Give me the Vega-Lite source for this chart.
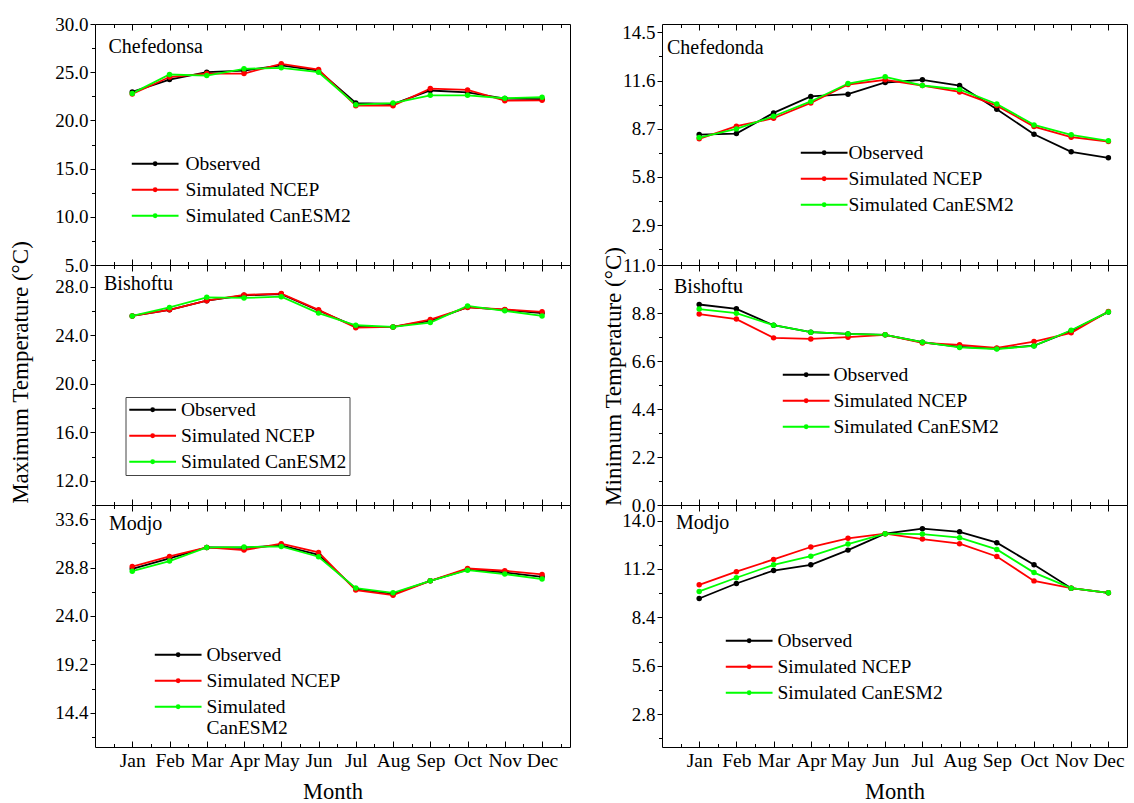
{
"$schema": "https://vega.github.io/schema/vega-lite/v6.json",
"padding": {"left": 8, "top": 14, "right": 5, "bottom": 0},
"config": {
  "font": "Liberation Serif",
  "view": {"stroke": "#000000", "strokeWidth": 1},
  "axis": {"labelFont": "Liberation Serif", "labelFontSize": 19, "labelColor": "#000000", "titleFont": "Liberation Serif", "titleFontSize": 23, "titleFontWeight": "normal", "titleColor": "#000000", "domainColor": "#000000", "tickColor": "#000000", "grid": false},
  "legend": {"labelFont": "Liberation Serif", "labelFontSize": 19.5, "labelColor": "#000000", "labelLimit": 400},
  "title": {"font": "Liberation Serif", "fontSize": 20, "fontWeight": "normal", "color": "#000000"}
},
"data": {"values": [
{"panel":"L1","series":"Observed","month":1,"temp":22.95},{"panel":"L1","series":"Observed","month":2,"temp":24.24},{"panel":"L1","series":"Observed","month":3,"temp":25.0},{"panel":"L1","series":"Observed","month":4,"temp":25.17},{"panel":"L1","series":"Observed","month":5,"temp":25.7},{"panel":"L1","series":"Observed","month":6,"temp":25.17},{"panel":"L1","series":"Observed","month":7,"temp":21.8},{"panel":"L1","series":"Observed","month":8,"temp":21.7},{"panel":"L1","series":"Observed","month":9,"temp":23.1},{"panel":"L1","series":"Observed","month":10,"temp":22.9},{"panel":"L1","series":"Observed","month":11,"temp":22.26},{"panel":"L1","series":"Observed","month":12,"temp":22.2},
{"panel":"L1","series":"Simulated NCEP","month":1,"temp":22.74},{"panel":"L1","series":"Simulated NCEP","month":2,"temp":24.5},{"panel":"L1","series":"Simulated NCEP","month":3,"temp":24.86},{"panel":"L1","series":"Simulated NCEP","month":4,"temp":24.86},{"panel":"L1","series":"Simulated NCEP","month":5,"temp":25.87},{"panel":"L1","series":"Simulated NCEP","month":6,"temp":25.28},{"panel":"L1","series":"Simulated NCEP","month":7,"temp":21.53},{"panel":"L1","series":"Simulated NCEP","month":8,"temp":21.53},{"panel":"L1","series":"Simulated NCEP","month":9,"temp":23.3},{"panel":"L1","series":"Simulated NCEP","month":10,"temp":23.16},{"panel":"L1","series":"Simulated NCEP","month":11,"temp":22.05},{"panel":"L1","series":"Simulated NCEP","month":12,"temp":22.08},
{"panel":"L1","series":"Simulated CanESM2","month":1,"temp":22.8},{"panel":"L1","series":"Simulated CanESM2","month":2,"temp":24.76},{"panel":"L1","series":"Simulated CanESM2","month":3,"temp":24.65},{"panel":"L1","series":"Simulated CanESM2","month":4,"temp":25.35},{"panel":"L1","series":"Simulated CanESM2","month":5,"temp":25.45},{"panel":"L1","series":"Simulated CanESM2","month":6,"temp":25.0},{"panel":"L1","series":"Simulated CanESM2","month":7,"temp":21.63},{"panel":"L1","series":"Simulated CanESM2","month":8,"temp":21.8},{"panel":"L1","series":"Simulated CanESM2","month":9,"temp":22.6},{"panel":"L1","series":"Simulated CanESM2","month":10,"temp":22.6},{"panel":"L1","series":"Simulated CanESM2","month":11,"temp":22.3},{"panel":"L1","series":"Simulated CanESM2","month":12,"temp":22.4},
{"panel":"L2","series":"Observed","month":1,"temp":25.6},{"panel":"L2","series":"Observed","month":2,"temp":26.1},{"panel":"L2","series":"Observed","month":3,"temp":26.86},{"panel":"L2","series":"Observed","month":4,"temp":27.3},{"panel":"L2","series":"Observed","month":5,"temp":27.4},{"panel":"L2","series":"Observed","month":6,"temp":26.05},{"panel":"L2","series":"Observed","month":7,"temp":24.72},{"panel":"L2","series":"Observed","month":8,"temp":24.69},{"panel":"L2","series":"Observed","month":9,"temp":25.2},{"panel":"L2","series":"Observed","month":10,"temp":26.33},{"panel":"L2","series":"Observed","month":11,"temp":26.1},{"panel":"L2","series":"Observed","month":12,"temp":25.83},
{"panel":"L2","series":"Simulated NCEP","month":1,"temp":25.6},{"panel":"L2","series":"Simulated NCEP","month":2,"temp":26.1},{"panel":"L2","series":"Simulated NCEP","month":3,"temp":26.86},{"panel":"L2","series":"Simulated NCEP","month":4,"temp":27.33},{"panel":"L2","series":"Simulated NCEP","month":5,"temp":27.44},{"panel":"L2","series":"Simulated NCEP","month":6,"temp":26.1},{"panel":"L2","series":"Simulated NCEP","month":7,"temp":24.63},{"panel":"L2","series":"Simulated NCEP","month":8,"temp":24.69},{"panel":"L2","series":"Simulated NCEP","month":9,"temp":25.3},{"panel":"L2","series":"Simulated NCEP","month":10,"temp":26.3},{"panel":"L2","series":"Simulated NCEP","month":11,"temp":26.13},{"panel":"L2","series":"Simulated NCEP","month":12,"temp":25.94},
{"panel":"L2","series":"Simulated CanESM2","month":1,"temp":25.6},{"panel":"L2","series":"Simulated CanESM2","month":2,"temp":26.3},{"panel":"L2","series":"Simulated CanESM2","month":3,"temp":27.13},{"panel":"L2","series":"Simulated CanESM2","month":4,"temp":27.08},{"panel":"L2","series":"Simulated CanESM2","month":5,"temp":27.19},{"panel":"L2","series":"Simulated CanESM2","month":6,"temp":25.83},{"panel":"L2","series":"Simulated CanESM2","month":7,"temp":24.83},{"panel":"L2","series":"Simulated CanESM2","month":8,"temp":24.69},{"panel":"L2","series":"Simulated CanESM2","month":9,"temp":25.05},{"panel":"L2","series":"Simulated CanESM2","month":10,"temp":26.42},{"panel":"L2","series":"Simulated CanESM2","month":11,"temp":26.02},{"panel":"L2","series":"Simulated CanESM2","month":12,"temp":25.6},
{"panel":"L3","series":"Observed","month":1,"temp":28.67},{"panel":"L3","series":"Observed","month":2,"temp":29.7},{"panel":"L3","series":"Observed","month":3,"temp":30.79},{"panel":"L3","series":"Observed","month":4,"temp":30.76},{"panel":"L3","series":"Observed","month":5,"temp":31.0},{"panel":"L3","series":"Observed","month":6,"temp":30.06},{"panel":"L3","series":"Observed","month":7,"temp":26.69},{"panel":"L3","series":"Observed","month":8,"temp":26.19},{"panel":"L3","series":"Observed","month":9,"temp":27.48},{"panel":"L3","series":"Observed","month":10,"temp":28.6},{"panel":"L3","series":"Observed","month":11,"temp":28.31},{"panel":"L3","series":"Observed","month":12,"temp":27.88},
{"panel":"L3","series":"Simulated NCEP","month":1,"temp":28.9},{"panel":"L3","series":"Simulated NCEP","month":2,"temp":29.9},{"panel":"L3","series":"Simulated NCEP","month":3,"temp":30.79},{"panel":"L3","series":"Simulated NCEP","month":4,"temp":30.53},{"panel":"L3","series":"Simulated NCEP","month":5,"temp":31.16},{"panel":"L3","series":"Simulated NCEP","month":6,"temp":30.3},{"panel":"L3","series":"Simulated NCEP","month":7,"temp":26.56},{"panel":"L3","series":"Simulated NCEP","month":8,"temp":26.06},{"panel":"L3","series":"Simulated NCEP","month":9,"temp":27.48},{"panel":"L3","series":"Simulated NCEP","month":10,"temp":28.7},{"panel":"L3","series":"Simulated NCEP","month":11,"temp":28.48},{"panel":"L3","series":"Simulated NCEP","month":12,"temp":28.11},
{"panel":"L3","series":"Simulated CanESM2","month":1,"temp":28.44},{"panel":"L3","series":"Simulated CanESM2","month":2,"temp":29.44},{"panel":"L3","series":"Simulated CanESM2","month":3,"temp":30.79},{"panel":"L3","series":"Simulated CanESM2","month":4,"temp":30.83},{"panel":"L3","series":"Simulated CanESM2","month":5,"temp":30.89},{"panel":"L3","series":"Simulated CanESM2","month":6,"temp":29.87},{"panel":"L3","series":"Simulated CanESM2","month":7,"temp":26.76},{"panel":"L3","series":"Simulated CanESM2","month":8,"temp":26.29},{"panel":"L3","series":"Simulated CanESM2","month":9,"temp":27.48},{"panel":"L3","series":"Simulated CanESM2","month":10,"temp":28.54},{"panel":"L3","series":"Simulated CanESM2","month":11,"temp":28.15},{"panel":"L3","series":"Simulated CanESM2","month":12,"temp":27.65},
{"panel":"R1","series":"Observed","month":1,"temp":8.35},{"panel":"R1","series":"Observed","month":2,"temp":8.41},{"panel":"R1","series":"Observed","month":3,"temp":9.65},{"panel":"R1","series":"Observed","month":4,"temp":10.64},{"panel":"R1","series":"Observed","month":5,"temp":10.78},{"panel":"R1","series":"Observed","month":6,"temp":11.48},{"panel":"R1","series":"Observed","month":7,"temp":11.64},{"panel":"R1","series":"Observed","month":8,"temp":11.3},{"panel":"R1","series":"Observed","month":9,"temp":9.87},{"panel":"R1","series":"Observed","month":10,"temp":8.37},{"panel":"R1","series":"Observed","month":11,"temp":7.31},{"panel":"R1","series":"Observed","month":12,"temp":6.95},
{"panel":"R1","series":"Simulated NCEP","month":1,"temp":8.09},{"panel":"R1","series":"Simulated NCEP","month":2,"temp":8.85},{"panel":"R1","series":"Simulated NCEP","month":3,"temp":9.33},{"panel":"R1","series":"Simulated NCEP","month":4,"temp":10.25},{"panel":"R1","series":"Simulated NCEP","month":5,"temp":11.36},{"panel":"R1","series":"Simulated NCEP","month":6,"temp":11.64},{"panel":"R1","series":"Simulated NCEP","month":7,"temp":11.3},{"panel":"R1","series":"Simulated NCEP","month":8,"temp":10.91},{"panel":"R1","series":"Simulated NCEP","month":9,"temp":10.09},{"panel":"R1","series":"Simulated NCEP","month":10,"temp":8.83},{"panel":"R1","series":"Simulated NCEP","month":11,"temp":8.19},{"panel":"R1","series":"Simulated NCEP","month":12,"temp":7.93},
{"panel":"R1","series":"Simulated CanESM2","month":1,"temp":8.17},{"panel":"R1","series":"Simulated CanESM2","month":2,"temp":8.69},{"panel":"R1","series":"Simulated CanESM2","month":3,"temp":9.45},{"panel":"R1","series":"Simulated CanESM2","month":4,"temp":10.34},{"panel":"R1","series":"Simulated CanESM2","month":5,"temp":11.42},{"panel":"R1","series":"Simulated CanESM2","month":6,"temp":11.82},{"panel":"R1","series":"Simulated CanESM2","month":7,"temp":11.3},{"panel":"R1","series":"Simulated CanESM2","month":8,"temp":11.06},{"panel":"R1","series":"Simulated CanESM2","month":9,"temp":10.19},{"panel":"R1","series":"Simulated CanESM2","month":10,"temp":8.93},{"panel":"R1","series":"Simulated CanESM2","month":11,"temp":8.33},{"panel":"R1","series":"Simulated CanESM2","month":12,"temp":7.97},
{"panel":"R2","series":"Observed","month":1,"temp":9.19},{"panel":"R2","series":"Observed","month":2,"temp":8.99},{"panel":"R2","series":"Observed","month":3,"temp":8.24},{"panel":"R2","series":"Observed","month":4,"temp":7.92},{"panel":"R2","series":"Observed","month":5,"temp":7.84},{"panel":"R2","series":"Observed","month":6,"temp":7.8},{"panel":"R2","series":"Observed","month":7,"temp":7.46},{"panel":"R2","series":"Observed","month":8,"temp":7.25},{"panel":"R2","series":"Observed","month":9,"temp":7.17},{"panel":"R2","series":"Observed","month":10,"temp":7.3},{"panel":"R2","series":"Observed","month":11,"temp":7.98},{"panel":"R2","series":"Observed","month":12,"temp":8.85},
{"panel":"R2","series":"Simulated NCEP","month":1,"temp":8.75},{"panel":"R2","series":"Simulated NCEP","month":2,"temp":8.52},{"panel":"R2","series":"Simulated NCEP","month":3,"temp":7.66},{"panel":"R2","series":"Simulated NCEP","month":4,"temp":7.61},{"panel":"R2","series":"Simulated NCEP","month":5,"temp":7.69},{"panel":"R2","series":"Simulated NCEP","month":6,"temp":7.8},{"panel":"R2","series":"Simulated NCEP","month":7,"temp":7.43},{"panel":"R2","series":"Simulated NCEP","month":8,"temp":7.34},{"panel":"R2","series":"Simulated NCEP","month":9,"temp":7.2},{"panel":"R2","series":"Simulated NCEP","month":10,"temp":7.49},{"panel":"R2","series":"Simulated NCEP","month":11,"temp":7.89},{"panel":"R2","series":"Simulated NCEP","month":12,"temp":8.87},
{"panel":"R2","series":"Simulated CanESM2","month":1,"temp":8.98},{"panel":"R2","series":"Simulated CanESM2","month":2,"temp":8.79},{"panel":"R2","series":"Simulated CanESM2","month":3,"temp":8.24},{"panel":"R2","series":"Simulated CanESM2","month":4,"temp":7.92},{"panel":"R2","series":"Simulated CanESM2","month":5,"temp":7.84},{"panel":"R2","series":"Simulated CanESM2","month":6,"temp":7.8},{"panel":"R2","series":"Simulated CanESM2","month":7,"temp":7.46},{"panel":"R2","series":"Simulated CanESM2","month":8,"temp":7.22},{"panel":"R2","series":"Simulated CanESM2","month":9,"temp":7.15},{"panel":"R2","series":"Simulated CanESM2","month":10,"temp":7.29},{"panel":"R2","series":"Simulated CanESM2","month":11,"temp":8.01},{"panel":"R2","series":"Simulated CanESM2","month":12,"temp":8.85},
{"panel":"R3","series":"Observed","month":1,"temp":9.49},{"panel":"R3","series":"Observed","month":2,"temp":10.36},{"panel":"R3","series":"Observed","month":3,"temp":11.11},{"panel":"R3","series":"Observed","month":4,"temp":11.44},{"panel":"R3","series":"Observed","month":5,"temp":12.29},{"panel":"R3","series":"Observed","month":6,"temp":13.24},{"panel":"R3","series":"Observed","month":7,"temp":13.53},{"panel":"R3","series":"Observed","month":8,"temp":13.35},{"panel":"R3","series":"Observed","month":9,"temp":12.72},{"panel":"R3","series":"Observed","month":10,"temp":11.44},{"panel":"R3","series":"Observed","month":11,"temp":10.09},{"panel":"R3","series":"Observed","month":12,"temp":9.82},
{"panel":"R3","series":"Simulated NCEP","month":1,"temp":10.28},{"panel":"R3","series":"Simulated NCEP","month":2,"temp":11.04},{"panel":"R3","series":"Simulated NCEP","month":3,"temp":11.75},{"panel":"R3","series":"Simulated NCEP","month":4,"temp":12.47},{"panel":"R3","series":"Simulated NCEP","month":5,"temp":12.97},{"panel":"R3","series":"Simulated NCEP","month":6,"temp":13.24},{"panel":"R3","series":"Simulated NCEP","month":7,"temp":12.93},{"panel":"R3","series":"Simulated NCEP","month":8,"temp":12.66},{"panel":"R3","series":"Simulated NCEP","month":9,"temp":11.92},{"panel":"R3","series":"Simulated NCEP","month":10,"temp":10.51},{"panel":"R3","series":"Simulated NCEP","month":11,"temp":10.09},{"panel":"R3","series":"Simulated NCEP","month":12,"temp":9.82},
{"panel":"R3","series":"Simulated CanESM2","month":1,"temp":9.9},{"panel":"R3","series":"Simulated CanESM2","month":2,"temp":10.69},{"panel":"R3","series":"Simulated CanESM2","month":3,"temp":11.44},{"panel":"R3","series":"Simulated CanESM2","month":4,"temp":11.94},{"panel":"R3","series":"Simulated CanESM2","month":5,"temp":12.64},{"panel":"R3","series":"Simulated CanESM2","month":6,"temp":13.24},{"panel":"R3","series":"Simulated CanESM2","month":7,"temp":13.22},{"panel":"R3","series":"Simulated CanESM2","month":8,"temp":13.01},{"panel":"R3","series":"Simulated CanESM2","month":9,"temp":12.33},{"panel":"R3","series":"Simulated CanESM2","month":10,"temp":10.99},{"panel":"R3","series":"Simulated CanESM2","month":11,"temp":10.09},{"panel":"R3","series":"Simulated CanESM2","month":12,"temp":9.82}
]},
"hconcat": [
{
"vconcat": [
{
 "width": 475, "height": 241,
 "title": {"text": "Chefedonsa", "anchor": "start", "frame": "group", "offset": -41.7, "dx": 13.5},
 "transform": [{"filter": "datum.panel == 'L1'"}],
 "layer": [
  {"mark": {"type": "line", "strokeWidth": 1.8, "point": {"filled": true, "size": 30}},
   "encoding": {
    "x": {"field": "month", "type": "quantitative", "scale": {"domain": [0, 12.75], "nice": false, "zero": false}, "axis": {"values": [0.5,1,1.5,2,2.5,3,3.5,4,4.5,5,5.5,6,6.5,7,7.5,8,8.5,9,9.5,10,10.5,11,11.5,12,12.5], "labels": false, "title": null, "domain": false, "tickSize": {"condition": {"test": "datum.value % 1 == 0", "value": -6}, "value": -3.5}}},
    "y": {"field": "temp", "type": "quantitative", "scale": {"domain": [5, 30], "nice": false, "zero": false}, "axis": {"values": [5,7.5,10,12.5,15,17.5,20,22.5,25,27.5,30], "labelExpr": "round(datum.value*10) % 50 == 0 ? format(datum.value, '.1f') : ''", "title": null, "domain": false, "labelPadding": 2, "tickSize": {"condition": {"test": "round(datum.value*10) % 50 == 0", "value": 5}, "value": 3.5}}},
    "color": {"field": "series", "type": "nominal", "scale": {"domain": ["Observed","Simulated NCEP","Simulated CanESM2"], "range": ["#000000","#ff0000","#00ff00"]}, "legend": {"orient": "none", "legendX": 66, "legendY": 130, "title": null, "symbolType": "M-5,0H1M-1.82,0A0.18,0.18,0,1,1,-2.18,0A0.18,0.18,0,1,1,-1.82,0M-1.94,0A0.06,0.06,0,1,1,-2.06,0A0.06,0.06,0,1,1,-1.94,0", "symbolSize": 243, "symbolStrokeWidth": 2, "labelOffset": 5, "rowPadding": 5, "padding": 0}}
   }},
  {"mark": {"type": "point", "opacity": 0},
   "encoding": {
    "x": {"field": "month", "type": "quantitative", "scale": {"domain": [0, 12.75], "nice": false, "zero": false}, "axis": {"orient": "top", "values": [0.5,1,1.5,2,2.5,3,3.5,4,4.5,5,5.5,6,6.5,7,7.5,8,8.5,9,9.5,10,10.5,11,11.5,12,12.5], "labels": false, "title": null, "domain": false, "tickSize": {"condition": {"test": "datum.value % 1 == 0", "value": -6}, "value": -3.5}}},
    "y": {"field": "temp", "type": "quantitative", "scale": {"domain": [5, 30], "nice": false, "zero": false}, "axis": null}
   }}
 ],
 "resolve": {"axis": {"x": "independent", "y": "independent"}}
},
{
 "width": 475, "height": 240,
 "title": {"text": "Bishoftu", "anchor": "start", "frame": "group", "offset": -53.4, "dx": 9},
 "transform": [{"filter": "datum.panel == 'L2'"}],
 "layer": [
  {"mark": {"type": "line", "strokeWidth": 1.8, "point": {"filled": true, "size": 30}},
   "encoding": {
    "x": {"field": "month", "type": "quantitative", "scale": {"domain": [0, 12.75], "nice": false, "zero": false}, "axis": {"values": [0.5,1,1.5,2,2.5,3,3.5,4,4.5,5,5.5,6,6.5,7,7.5,8,8.5,9,9.5,10,10.5,11,11.5,12,12.5], "labels": false, "title": null, "domain": false, "tickSize": {"condition": {"test": "datum.value % 1 == 0", "value": -6}, "value": -3.5}}},
    "y": {"field": "temp", "type": "quantitative", "scale": {"domain": [10, 29.8], "nice": false, "zero": false}, "axis": {"values": [10,12,14,16,18,20,22,24,26,28], "labelExpr": "round(datum.value) % 4 == 0 ? format(datum.value, '.1f') : ''", "title": "Maximum Temperature (°C)", "titleX": -63, "titleY": 107, "domain": false, "labelPadding": 2, "tickSize": {"condition": {"test": "round(datum.value) % 4 == 0", "value": 5}, "value": 3.5}}},
    "color": {"field": "series", "type": "nominal", "scale": {"domain": ["Observed","Simulated NCEP","Simulated CanESM2"], "range": ["#000000","#ff0000","#00ff00"]}, "legend": {"orient": "none", "legendX": 30.5, "legendY": 132, "title": null, "symbolType": "M-5,0H1M-1.82,0A0.18,0.18,0,1,1,-2.18,0A0.18,0.18,0,1,1,-1.82,0M-1.94,0A0.06,0.06,0,1,1,-2.06,0A0.06,0.06,0,1,1,-1.94,0", "symbolSize": 243, "symbolStrokeWidth": 2, "symbolOffset": 30, "labelOffset": 3, "rowPadding": 5, "padding": 3, "strokeColor": "#444444"}}
   }},
  {"mark": {"type": "point", "opacity": 0},
   "encoding": {
    "x": {"field": "month", "type": "quantitative", "scale": {"domain": [0, 12.75], "nice": false, "zero": false}, "axis": {"orient": "top", "values": [0.5,1,1.5,2,2.5,3,3.5,4,4.5,5,5.5,6,6.5,7,7.5,8,8.5,9,9.5,10,10.5,11,11.5,12,12.5], "labels": false, "title": null, "domain": false, "tickSize": {"condition": {"test": "datum.value % 1 == 0", "value": -6}, "value": -3.5}}},
    "y": {"field": "temp", "type": "quantitative", "scale": {"domain": [10, 29.8], "nice": false, "zero": false}, "axis": null}
   }}
 ],
 "resolve": {"axis": {"x": "independent", "y": "independent"}}
},
{
 "width": 475, "height": 242,
 "title": {"text": "Modjo", "anchor": "start", "frame": "group", "offset": -29.3, "dx": 14},
 "transform": [{"filter": "datum.panel == 'L3'"}],
 "layer": [
  {"mark": {"type": "line", "strokeWidth": 1.8, "point": {"filled": true, "size": 30}},
   "encoding": {
    "x": {"field": "month", "type": "quantitative", "scale": {"domain": [0, 12.75], "nice": false, "zero": false}, "axis": {"values": [0.5,1,1.5,2,2.5,3,3.5,4,4.5,5,5.5,6,6.5,7,7.5,8,8.5,9,9.5,10,10.5,11,11.5,12,12.5], "labelExpr": "datum.value % 1 == 0 ? ['','Jan','Feb','Mar','Apr','May','Jun','Jul','Aug','Sep','Oct','Nov','Dec'][datum.value] : ''", "labelFontSize": 19.5, "labelPadding": 10, "title": "Month", "titleFontSize": 22.5, "titlePadding": 11, "domain": false, "tickSize": {"condition": {"test": "datum.value % 1 == 0", "value": -6}, "value": -3.5}}},
    "y": {"field": "temp", "type": "quantitative", "scale": {"domain": [11, 35], "nice": false, "zero": false}, "axis": {"values": [12,14.4,16.8,19.2,21.6,24,26.4,28.8,31.2,33.6], "labelExpr": "round(datum.value*10) % 48 == 0 ? format(datum.value, '.1f') : ''", "title": null, "domain": false, "labelPadding": 2, "tickSize": {"condition": {"test": "round(datum.value*10) % 48 == 0", "value": 5}, "value": 3.5}}},
    "color": {"field": "series", "type": "nominal", "scale": {"domain": ["Observed","Simulated NCEP","Simulated CanESM2"], "range": ["#000000","#ff0000","#00ff00"]}, "legend": {"orient": "none", "legendX": 89, "legendY": 140, "title": null, "labelExpr": "datum.label == 'Simulated CanESM2' ? ['Simulated', 'CanESM2'] : datum.label", "symbolType": "M-5,0H1M-1.82,0A0.18,0.18,0,1,1,-2.18,0A0.18,0.18,0,1,1,-1.82,0M-1.94,0A0.06,0.06,0,1,1,-2.06,0A0.06,0.06,0,1,1,-1.94,0", "symbolSize": 243, "symbolStrokeWidth": 2, "labelOffset": 3, "rowPadding": 5, "padding": 0}}
   }},
  {"mark": {"type": "point", "opacity": 0},
   "encoding": {
    "x": {"field": "month", "type": "quantitative", "scale": {"domain": [0, 12.75], "nice": false, "zero": false}, "axis": {"orient": "top", "values": [0.5,1,1.5,2,2.5,3,3.5,4,4.5,5,5.5,6,6.5,7,7.5,8,8.5,9,9.5,10,10.5,11,11.5,12,12.5], "labels": false, "title": null, "domain": false, "tickSize": {"condition": {"test": "datum.value % 1 == 0", "value": -6}, "value": -3.5}}},
    "y": {"field": "temp", "type": "quantitative", "scale": {"domain": [11, 35], "nice": false, "zero": false}, "axis": null}
   }}
 ],
 "resolve": {"axis": {"x": "independent", "y": "independent"}}
}
],
"spacing": 0, "bounds": "flush",
"resolve": {"scale": {"color": "independent"}, "legend": {"color": "independent"}}
},
{
"vconcat": [
{
 "width": 465, "height": 241,
 "title": {"text": "Chefedonda", "anchor": "start", "frame": "group", "offset": -34.7, "dx": 5},
 "transform": [{"filter": "datum.panel == 'R1'"}],
 "layer": [
  {"mark": {"type": "line", "strokeWidth": 1.8, "point": {"filled": true, "size": 30}},
   "encoding": {
    "x": {"field": "month", "type": "quantitative", "scale": {"domain": [0, 12.5], "nice": false, "zero": false}, "axis": {"values": [0.5,1,1.5,2,2.5,3,3.5,4,4.5,5,5.5,6,6.5,7,7.5,8,8.5,9,9.5,10,10.5,11,11.5,12], "labels": false, "title": null, "domain": false, "tickSize": {"condition": {"test": "datum.value % 1 == 0", "value": -6}, "value": -3.5}}},
    "y": {"field": "temp", "type": "quantitative", "scale": {"domain": [0.5, 15], "nice": false, "zero": false}, "axis": {"values": [1.45,2.9,4.35,5.8,7.25,8.7,10.15,11.6,13.05,14.5], "labelExpr": "round(datum.value*100) % 290 == 0 ? format(datum.value, '.1f') : ''", "title": null, "domain": false, "labelPadding": 2, "tickSize": {"condition": {"test": "round(datum.value*100) % 290 == 0", "value": 5}, "value": 3.5}}},
    "color": {"field": "series", "type": "nominal", "scale": {"domain": ["Observed","Simulated NCEP","Simulated CanESM2"], "range": ["#000000","#ff0000","#00ff00"]}, "legend": {"orient": "none", "legendX": 168, "legendY": 119, "title": null, "symbolType": "M-5,0H1M-1.82,0A0.18,0.18,0,1,1,-2.18,0A0.18,0.18,0,1,1,-1.82,0M-1.94,0A0.06,0.06,0,1,1,-2.06,0A0.06,0.06,0,1,1,-1.94,0", "symbolSize": 243, "symbolStrokeWidth": 2, "labelOffset": -1, "rowPadding": 5, "padding": 0}}
   }},
  {"mark": {"type": "point", "opacity": 0},
   "encoding": {
    "x": {"field": "month", "type": "quantitative", "scale": {"domain": [0, 12.5], "nice": false, "zero": false}, "axis": {"orient": "top", "values": [0.5,1,1.5,2,2.5,3,3.5,4,4.5,5,5.5,6,6.5,7,7.5,8,8.5,9,9.5,10,10.5,11,11.5,12], "labels": false, "title": null, "domain": false, "tickSize": {"condition": {"test": "datum.value % 1 == 0", "value": -6}, "value": -3.5}}},
    "y": {"field": "temp", "type": "quantitative", "scale": {"domain": [0.5, 15], "nice": false, "zero": false}, "axis": null}
   }}
 ],
 "resolve": {"axis": {"x": "independent", "y": "independent"}}
},
{
 "width": 465, "height": 240,
 "title": {"text": "Bishoftu", "anchor": "start", "frame": "group", "offset": -50.4, "dx": 12},
 "transform": [{"filter": "datum.panel == 'R2'"}],
 "layer": [
  {"mark": {"type": "line", "strokeWidth": 1.8, "point": {"filled": true, "size": 30}},
   "encoding": {
    "x": {"field": "month", "type": "quantitative", "scale": {"domain": [0, 12.5], "nice": false, "zero": false}, "axis": {"values": [0.5,1,1.5,2,2.5,3,3.5,4,4.5,5,5.5,6,6.5,7,7.5,8,8.5,9,9.5,10,10.5,11,11.5,12], "labels": false, "title": null, "domain": false, "tickSize": {"condition": {"test": "datum.value % 1 == 0", "value": -6}, "value": -3.5}}},
    "y": {"field": "temp", "type": "quantitative", "scale": {"domain": [0, 11], "nice": false, "zero": false}, "axis": {"values": [0,1.1,2.2,3.3,4.4,5.5,6.6,7.7,8.8,9.9,11], "labelExpr": "round(datum.value*10) % 22 == 0 ? format(datum.value, '.1f') : ''", "title": "Minimum Temperature (°C)", "titleX": -37, "titleY": 111, "domain": false, "labelPadding": 2, "tickSize": {"condition": {"test": "round(datum.value*10) % 22 == 0", "value": 5}, "value": 3.5}}},
    "color": {"field": "series", "type": "nominal", "scale": {"domain": ["Observed","Simulated NCEP","Simulated CanESM2"], "range": ["#000000","#ff0000","#00ff00"]}, "legend": {"orient": "none", "legendX": 150, "legendY": 100, "title": null, "symbolType": "M-5,0H1M-1.82,0A0.18,0.18,0,1,1,-2.18,0A0.18,0.18,0,1,1,-1.82,0M-1.94,0A0.06,0.06,0,1,1,-2.06,0A0.06,0.06,0,1,1,-1.94,0", "symbolSize": 243, "symbolStrokeWidth": 2, "labelOffset": 2, "rowPadding": 5, "padding": 0}}
   }},
  {"mark": {"type": "point", "opacity": 0},
   "encoding": {
    "x": {"field": "month", "type": "quantitative", "scale": {"domain": [0, 12.5], "nice": false, "zero": false}, "axis": {"orient": "top", "values": [0.5,1,1.5,2,2.5,3,3.5,4,4.5,5,5.5,6,6.5,7,7.5,8,8.5,9,9.5,10,10.5,11,11.5,12], "labels": false, "title": null, "domain": false, "tickSize": {"condition": {"test": "datum.value % 1 == 0", "value": -6}, "value": -3.5}}},
    "y": {"field": "temp", "type": "quantitative", "scale": {"domain": [0, 11], "nice": false, "zero": false}, "axis": null}
   }}
 ],
 "resolve": {"axis": {"x": "independent", "y": "independent"}}
},
{
 "width": 465, "height": 242,
 "title": {"text": "Modjo", "anchor": "start", "frame": "group", "offset": -28.3, "dx": 14},
 "transform": [{"filter": "datum.panel == 'R3'"}],
 "layer": [
  {"mark": {"type": "line", "strokeWidth": 1.8, "point": {"filled": true, "size": 30}},
   "encoding": {
    "x": {"field": "month", "type": "quantitative", "scale": {"domain": [0, 12.5], "nice": false, "zero": false}, "axis": {"values": [0.5,1,1.5,2,2.5,3,3.5,4,4.5,5,5.5,6,6.5,7,7.5,8,8.5,9,9.5,10,10.5,11,11.5,12], "labelExpr": "datum.value % 1 == 0 ? ['','Jan','Feb','Mar','Apr','May','Jun','Jul','Aug','Sep','Oct','Nov','Dec'][datum.value] : ''", "labelFontSize": 19.5, "labelPadding": 10, "title": "Month", "titleFontSize": 22.5, "titlePadding": 11, "domain": false, "tickSize": {"condition": {"test": "datum.value % 1 == 0", "value": -6}, "value": -3.5}}},
    "y": {"field": "temp", "type": "quantitative", "scale": {"domain": [0.9, 14.9], "nice": false, "zero": false}, "axis": {"values": [1.4,2.8,4.2,5.6,7,8.4,9.8,11.2,12.6,14], "labelExpr": "round(datum.value*10) % 28 == 0 ? format(datum.value, '.1f') : ''", "title": null, "domain": false, "labelPadding": 2, "tickSize": {"condition": {"test": "round(datum.value*10) % 28 == 0", "value": 5}, "value": 3.5}}},
    "color": {"field": "series", "type": "nominal", "scale": {"domain": ["Observed","Simulated NCEP","Simulated CanESM2"], "range": ["#000000","#ff0000","#00ff00"]}, "legend": {"orient": "none", "legendX": 93, "legendY": 126, "title": null, "symbolType": "M-5,0H1M-1.82,0A0.18,0.18,0,1,1,-2.18,0A0.18,0.18,0,1,1,-1.82,0M-1.94,0A0.06,0.06,0,1,1,-2.06,0A0.06,0.06,0,1,1,-1.94,0", "symbolSize": 243, "symbolStrokeWidth": 2, "labelOffset": 3, "rowPadding": 5, "padding": 0}}
   }},
  {"mark": {"type": "point", "opacity": 0},
   "encoding": {
    "x": {"field": "month", "type": "quantitative", "scale": {"domain": [0, 12.5], "nice": false, "zero": false}, "axis": {"orient": "top", "values": [0.5,1,1.5,2,2.5,3,3.5,4,4.5,5,5.5,6,6.5,7,7.5,8,8.5,9,9.5,10,10.5,11,11.5,12], "labels": false, "title": null, "domain": false, "tickSize": {"condition": {"test": "datum.value % 1 == 0", "value": -6}, "value": -3.5}}},
    "y": {"field": "temp", "type": "quantitative", "scale": {"domain": [0.9, 14.9], "nice": false, "zero": false}, "axis": null}
   }}
 ],
 "resolve": {"axis": {"x": "independent", "y": "independent"}}
}
],
"spacing": 0, "bounds": "flush",
"resolve": {"scale": {"color": "independent"}, "legend": {"color": "independent"}}
}
],
"spacing": 30,
"resolve": {"scale": {"color": "independent"}, "legend": {"color": "independent"}}
}
